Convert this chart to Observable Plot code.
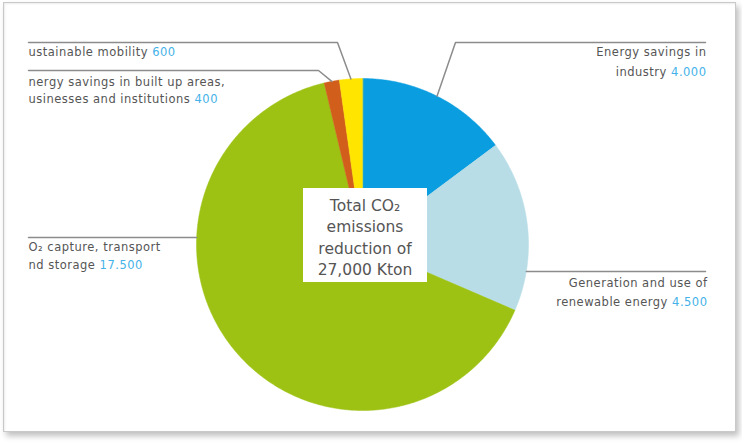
<!DOCTYPE html>
<html>
<head>
<meta charset="utf-8">
<script src="https://cdn.jsdelivr.net/npm/d3@7"></script>
<script src="https://cdn.jsdelivr.net/npm/@observablehq/plot@0.6"></script>
<style>
  html, body { margin: 0; padding: 0; background: #fff; }
  #wrap { position: relative; width: 742px; height: 443px; overflow: hidden; background: #fff; }
  #chart { position: absolute; left: 0; top: 0; }
  #frame {
    position: absolute; left: 3px; top: 2px; width: 731px; height: 428px;
    border: 1px solid #c9c9c9;
    box-shadow: 3px 4px 6px rgba(0,0,0,0.25), inset 1px 1px 2px rgba(0,0,0,0.08);
    pointer-events: none;
  }
</style>
</head>
<body>
<div id="wrap">
  <div id="chart"></div>
  <div id="frame"></div>
</div>
<script>
// CO2 emission reduction by measure (Kton), clockwise from 12 o'clock
const categories = [
  "Energy savings in industry",
  "Generation and use of renewable energy",
  "CO2 capture, transport and storage",
  "Energy savings in built up areas, businesses and institutions",
  "Sustainable mobility"
];
const values = [4000, 4500, 17500, 400, 600];

// label lines as printed next to each slice (the value is appended to the last line)
const labelLines = [
  ["Energy savings in", "industry"],
  ["Generation and use of", "renewable energy"],
  ["O\u2082 capture, transport", "nd storage"],
  ["nergy savings in built up areas,", "usinesses and institutions"],
  ["ustainable mobility"]
];
const centerLines = ["Total CO\u2082", "emissions", "reduction of"];
const unit = "Kton";

const palette = ["#0a9ddf", "#b8dde7", "#9dc214", "#d15f1b", "#ffe500"];
const ink = "#555555";
const numberInk = "#44b2e8";
const leaderInk = "#8c8c8c";

// number formats: slice values use dot grouping, the total uses comma grouping
const fmtValue = d3.formatLocale({decimal: ",", thousands: ".", grouping: [3], currency: ["", ""]}).format(",");
const fmtTotal = d3.format(",");

// layout (pixel units; x and y scales are identity over the canvas)
const W = 742, H = 443;
const cx = 362, cy = 244, R = 166;

const arcs = d3.pie().sort(null).value(d => d)(values);

// slice polygons sampled along the arc
const slicePoints = arcs.flatMap((a, i) => {
  const n = Math.max(2, Math.ceil((a.endAngle - a.startAngle) / (Math.PI / 360)));
  const pts = [{category: categories[i], x: cx, y: cy}];
  for (let k = 0; k <= n; ++k) {
    const t = a.startAngle + (a.endAngle - a.startAngle) * k / n;
    pts.push({category: categories[i], x: cx + R * Math.sin(t), y: cy - R * Math.cos(t)});
  }
  return pts;
});

const midPoint = i => {
  const t = (arcs[i].startAngle + arcs[i].endAngle) / 2;
  return [cx + R * Math.sin(t), cy - R * Math.cos(t)];
};
const edgeAtY = (y, side) => [cx + side * Math.sqrt(R * R - (y - cy) * (y - cy)), y];

// leader lines from the slices out to their labels
const leaderPaths = [
  [midPoint(0), [455, 42], [705, 42]],
  [edgeAtY(271, 1), [705, 271]],
  [edgeAtY(237, -1), [28, 237]],
  [midPoint(3), [318, 70], [28, 70]],
  [midPoint(4), [337, 42], [28, 42]]
];
const leaderPoints = leaderPaths.flatMap((p, i) => p.map(([x, y]) => ({id: i, x, y})));

// text positions for each label block: anchor x, first line y, line step
const labelPlace = [
  {x: 706, y: 52, dy: 20, anchor: "end"},
  {x: 707, y: 283, dy: 19, anchor: "end"},
  {x: 28, y: 247, dy: 18, anchor: "start"},
  {x: 28, y: 82, dy: 17, anchor: "start"},
  {x: 28, y: 52, dy: 18, anchor: "start"}
];
const labelRows = labelLines.flatMap((lines, i) => lines.map((s, j) => ({
  x: labelPlace[i].x,
  y: labelPlace[i].y + j * labelPlace[i].dy,
  anchor: labelPlace[i].anchor,
  text: j === lines.length - 1 ? `${s} ${fmtValue(values[i])}` : s
})));

const total = d3.sum(values);
const centerText = [...centerLines, `${fmtTotal(total)} ${unit}`].join("\n");

const font = "DejaVu Sans";
const labelStyle = {fill: ink, fontSize: 11.5, fontFamily: font};

const plot = Plot.plot({
  width: W,
  height: H,
  margin: 0,
  x: {domain: [0, W], range: [0, W], axis: null},
  y: {domain: [0, H], range: [0, H], axis: null},
  color: {domain: categories, range: palette},
  style: {background: "transparent", fontFamily: font},
  marks: [
    Plot.line(slicePoints, {
      x: "x", y: "y", z: "category", fill: "category",
      stroke: "category", strokeWidth: 0.5, curve: "linear-closed"
    }),
    Plot.line(leaderPoints, {x: "x", y: "y", z: "id", stroke: leaderInk, strokeWidth: 1.5}),
    Plot.rect([{x1: cx - 59, x2: cx + 65, y1: cy - 56, y2: cy + 38}], {
      x1: "x1", x2: "x2", y1: "y1", y2: "y2", fill: "white"
    }),
    Plot.text([centerText], {
      x: cx + 2.5, y: cy - 8.5, text: d => d, fill: ink,
      fontSize: 15.5, lineHeight: 1.38, fontFamily: font
    }),
    Plot.text(labelRows.filter(d => d.anchor === "end"), {
      x: "x", y: "y", text: "text", textAnchor: "end", ...labelStyle
    }),
    Plot.text(labelRows.filter(d => d.anchor === "start"), {
      x: "x", y: "y", text: "text", textAnchor: "start", ...labelStyle
    })
  ]
});

// widen the label lettering and colour the trailing value of each label line
plot.querySelectorAll("text").forEach(t => {
  if (t.querySelector("tspan")) return;
  t.setAttribute("letter-spacing", "0.5");
  const m = /^(.*\s)(\d[\d.]*)$/.exec(t.textContent);
  if (!m) return;
  t.textContent = "";
  const ns = "http://www.w3.org/2000/svg";
  const a = document.createElementNS(ns, "tspan");
  a.textContent = m[1];
  const b = document.createElementNS(ns, "tspan");
  b.textContent = m[2];
  b.setAttribute("fill", numberInk);
  t.append(a, b);
});

document.getElementById("chart").append(plot);
</script>
</body>
</html>
